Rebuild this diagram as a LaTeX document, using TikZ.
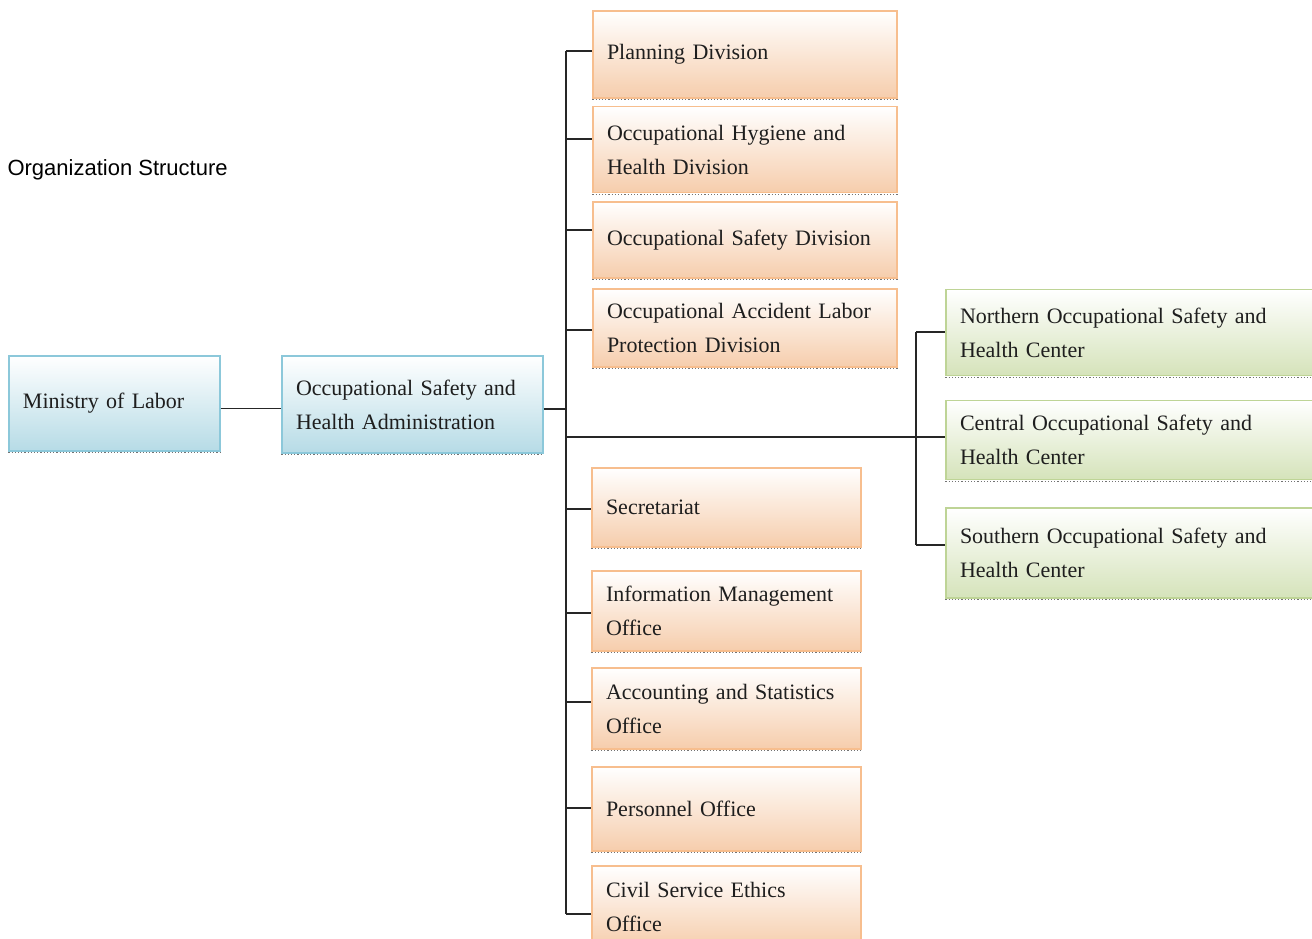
\documentclass[tikz,border=0pt]{standalone}
\usepackage{fontspec}
\setmainfont{Liberation Serif}
\newfontfamily\titlefont{Liberation Sans}
\usepackage{tikz}

\definecolor{blueline}{RGB}{140,200,218}
\definecolor{bluefill}{RGB}{182,219,230}
\definecolor{orangeline}{RGB}{247,190,142}
\definecolor{orangefill}{RGB}{246,205,172}
\definecolor{greenline}{RGB}{190,212,150}
\definecolor{greenfill}{RGB}{213,227,186}
\definecolor{textdark}{RGB}{30,30,30}

\tikzset{
  box/.style={draw, line width=1.2pt, inner xsep=14pt, inner ysep=0pt,
    align=left, text=textdark, font=\fontsize{22}{34}\selectfont,
    top color=white, anchor=center},
  bluebox/.style={box, draw=blueline, bottom color=bluefill},
  orangebox/.style={box, draw=orangeline, bottom color=orangefill},
  greenbox/.style={box, draw=greenline, bottom color=greenfill},
  link/.style={line width=1.2pt, black!85}
}

\begin{document}
\begin{tikzpicture}[x=1pt,y=-1pt]
\useasboundingbox (0,0) rectangle (1312,939);
% Title
\node[anchor=west, font=\titlefont\fontsize{22}{26}\selectfont] (title) at (4,170) {Organization Structure};
% Left boxes
\node[bluebox, minimum width=211pt, minimum height=95pt, text width=183pt] (mol) at (114.5,403.5) {Ministry of Labor};
\node[bluebox, minimum width=261pt, minimum height=97pt, text width=233pt] (osha) at (412.5,404.5) {Occupational Safety and\\Health Administration};
% Divisions
\node[orangebox, minimum width=304pt, minimum height=87pt, text width=276pt] (plan) at (745,54.5) {Planning Division};
\node[orangebox, minimum width=304pt, minimum height=86pt, text width=276pt] (hyg) at (745,149.5) {Occupational Hygiene and\\Health Division};
\node[orangebox, minimum width=304pt, minimum height=76pt, text width=276pt] (safe) at (745,240) {Occupational Safety Division};
\node[orangebox, minimum width=304pt, minimum height=78pt, text width=276pt] (acc) at (745,328) {Occupational Accident Labor\\Protection Division};
% Offices
\node[orangebox, minimum width=269pt, minimum height=79pt, text width=241pt] (sec) at (726.5,507.5) {Secretariat};
\node[orangebox, minimum width=269pt, minimum height=80pt, text width=241pt] (info) at (726.5,611) {Information Management\\Office};
\node[orangebox, minimum width=269pt, minimum height=81pt, text width=241pt] (acct) at (726.5,708.5) {Accounting and Statistics\\Office};
\node[orangebox, minimum width=269pt, minimum height=84pt, text width=241pt] (pers) at (726.5,809) {Personnel Office};
\node[orangebox, minimum width=269pt, minimum height=82pt, text width=241pt] (ethics) at (726.5,907) {Civil Service Ethics\\Office};
% Centers
\node[greenbox, minimum width=380pt, minimum height=86pt, text width=352pt] (north) at (1136,332.5) {Northern Occupational Safety and\\Health Center};
\node[greenbox, minimum width=380pt, minimum height=79pt, text width=352pt] (cent) at (1136,440) {Central Occupational Safety and\\Health Center};
\node[greenbox, minimum width=380pt, minimum height=90pt, text width=352pt] (south) at (1136,553) {Southern Occupational Safety and\\Health Center};

% dotted shadow under the boxes
\foreach \n in {mol,osha,plan,hyg,safe,acc,sec,info,acct,pers,north,cent,south}
  \draw[black!55, dotted, line width=1.2pt] ([yshift=-1pt]\n.south west) -- ([yshift=-1pt]\n.south east);

% Spines
\coordinate (spinetop) at (566,51);
\coordinate (spinebot) at (566,914);
\coordinate (spinemid) at (566,409);
\coordinate (fork) at (566,437);
\coordinate (centertop) at (916,332);
\coordinate (centerbot) at (916,545);
\draw[link] ([yshift=-5pt]mol.east) -- ([yshift=-5pt]mol.east -| osha.west);
\draw[link] (osha.east |- spinemid) -- (spinemid);
\draw[link] (spinetop) -- (spinebot);
\draw[link] (fork) -- (fork -| centertop);
\draw[link] (centertop) -- (centerbot);
% Branches to divisions and offices
\foreach \n/\y in {plan/51,hyg/139,safe/230,acc/330,sec/509,info/613,acct/702,pers/808,ethics/914}{
  \coordinate (b) at (566,\y);
  \draw[link] (b) -- (b -| \n.west);
}
% Branches to centers
\foreach \n/\y in {north/332,cent/437,south/545}{
  \coordinate (b) at (916,\y);
  \draw[link] (b) -- (b -| \n.west);
}
\end{tikzpicture}
\end{document}
